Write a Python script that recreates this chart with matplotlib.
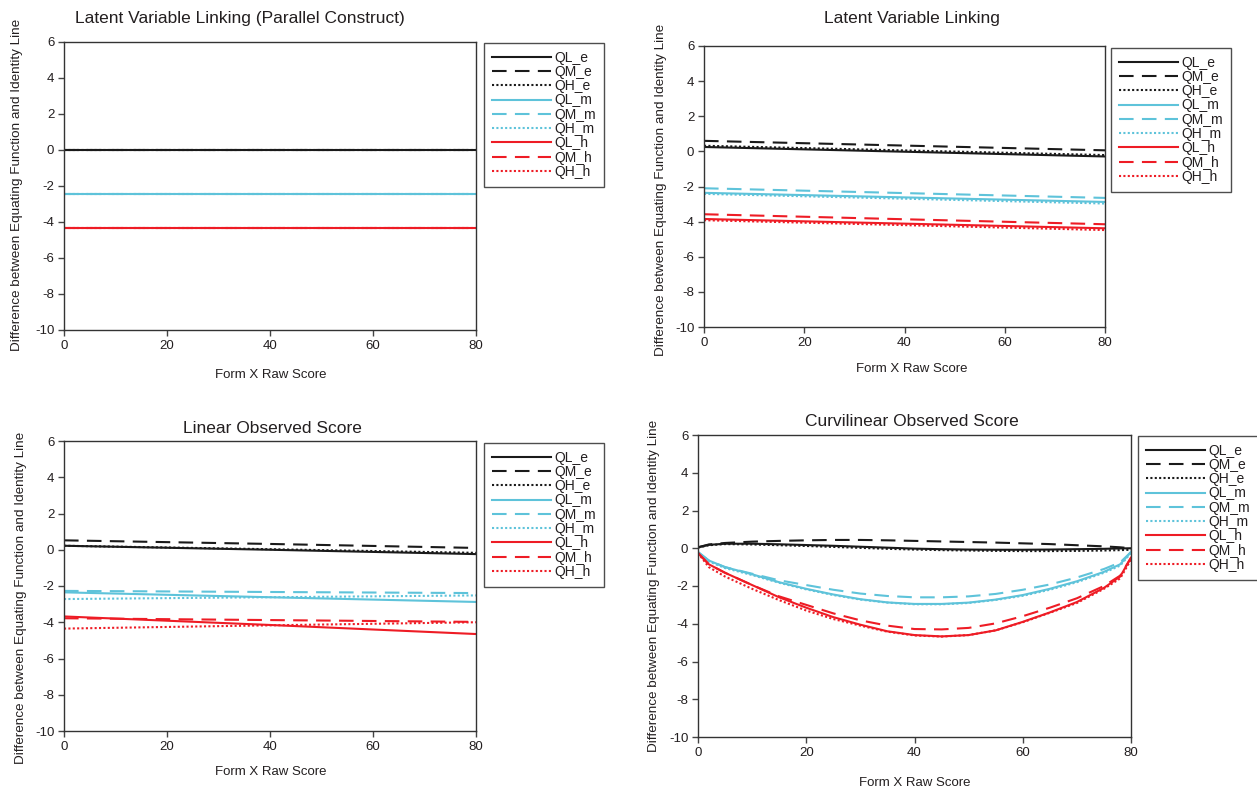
import matplotlib
matplotlib.use("Agg")
import matplotlib.pyplot as plt

plt.rcParams['font.family'] = ['Liberation Sans', 'DejaVu Sans']
plt.rcParams['axes.unicode_minus'] = False

W, H = 1257, 792

series_names = ["QL_e", "QM_e", "QH_e", "QL_m", "QM_m", "QH_m", "QL_h", "QM_h", "QH_h"]

# Panel 1: Latent Variable Linking (Parallel Construct)
p1_x = [0, 80]
p1_QL_e = [0.0, 0.0]
p1_QM_e = [0.0, 0.0]
p1_QH_e = [0.0, 0.0]
p1_QL_m = [-2.45, -2.45]
p1_QM_m = [-2.45, -2.45]
p1_QH_m = [-2.45, -2.45]
p1_QL_h = [-4.35, -4.35]
p1_QM_h = [-4.35, -4.35]
p1_QH_h = [-4.35, -4.35]

# Panel 2: Latent Variable Linking
p2_x = [0, 80]
p2_QL_e = [0.25, -0.29]
p2_QM_e = [0.60, 0.06]
p2_QH_e = [0.32, -0.21]
p2_QL_m = [-2.36, -2.88]
p2_QM_m = [-2.10, -2.65]
p2_QH_m = [-2.42, -2.97]
p2_QL_h = [-3.85, -4.38]
p2_QM_h = [-3.58, -4.15]
p2_QH_h = [-3.92, -4.48]

# Panel 3: Linear Observed Score
p3_x = [0, 40, 80]
p3_QL_e = [0.22, 0.00, -0.24]
p3_QM_e = [0.52, 0.32, 0.10]
p3_QH_e = [0.22, 0.03, -0.17]
p3_QL_m = [-2.35, -2.62, -2.88]
p3_QM_m = [-2.27, -2.33, -2.39]
p3_QH_m = [-2.72, -2.62, -2.52]
p3_QL_h = [-3.68, -4.15, -4.65]
p3_QM_h = [-3.78, -3.88, -3.98]
p3_QH_h = [-4.35, -4.17, -4.00]

# Panel 4: Curvilinear Observed Score
p4_x = [0, 2, 5, 10, 15, 20, 25, 30, 35, 40, 45, 50, 55, 60, 65, 70, 75, 78, 80]
p4_QL_e = [0.05, 0.18, 0.24, 0.24, 0.21, 0.17, 0.13, 0.08, 0.03, -0.02, -0.05, -0.07, -0.08, -0.08, -0.07, -0.05, -0.03, -0.01, 0.0]
p4_QM_e = [0.05, 0.20, 0.28, 0.35, 0.39, 0.42, 0.44, 0.44, 0.42, 0.39, 0.36, 0.33, 0.30, 0.26, 0.22, 0.16, 0.10, 0.05, 0.0]
p4_QH_e = [0.03, 0.16, 0.22, 0.20, 0.16, 0.12, 0.07, 0.02, -0.03, -0.07, -0.10, -0.12, -0.14, -0.15, -0.15, -0.14, -0.12, -0.10, -0.08]
p4_QL_m = [-0.20, -0.65, -1.00, -1.38, -1.80, -2.15, -2.45, -2.70, -2.87, -2.95, -2.95, -2.88, -2.72, -2.48, -2.15, -1.75, -1.25, -0.85, -0.20]
p4_QM_m = [-0.20, -0.65, -1.00, -1.35, -1.70, -1.95, -2.20, -2.40, -2.53, -2.60, -2.60, -2.55, -2.42, -2.20, -1.92, -1.55, -1.10, -0.75, -0.20]
p4_QH_m = [-0.22, -0.70, -1.05, -1.42, -1.83, -2.18, -2.48, -2.72, -2.88, -2.97, -2.97, -2.90, -2.74, -2.52, -2.20, -1.80, -1.30, -0.92, -0.25]
p4_QL_h = [-0.25, -0.85, -1.30, -1.95, -2.60, -3.15, -3.65, -4.05, -4.40, -4.60, -4.67, -4.60, -4.35, -3.90, -3.40, -2.85, -2.10, -1.50, -0.50]
p4_QM_h = [-0.25, -0.85, -1.30, -1.95, -2.55, -3.00, -3.45, -3.82, -4.10, -4.28, -4.30, -4.22, -3.98, -3.60, -3.15, -2.65, -2.00, -1.45, -0.50]
p4_QH_h = [-0.25, -1.00, -1.50, -2.15, -2.75, -3.30, -3.75, -4.10, -4.42, -4.62, -4.68, -4.60, -4.35, -3.92, -3.42, -2.90, -2.15, -1.60, -0.60]

titles = ["Latent Variable Linking (Parallel Construct)", "Latent Variable Linking",
          "Linear Observed Score", "Curvilinear Observed Score"]
xlabel = "Form X Raw Score"
ylabel = "Difference between Equating Function and Identity Line"
xticks = [0, 20, 40, 60, 80]
yticks = [6, 4, 2, 0, -2, -4, -6, -8, -10]

BLACK = "#1a1a1a"
CYAN = "#5ec3da"
RED = "#ee1c25"
TXT = "#231f20"
colors = [BLACK, BLACK, BLACK, CYAN, CYAN, CYAN, RED, RED, RED]
DASH = (0, (7, 4))
DOT = (0, (1, 1.1))
styles = ["-", DASH, DOT, "-", DASH, DOT, "-", DASH, DOT]

panels = [
    (p1_x, [p1_QL_e, p1_QM_e, p1_QH_e, p1_QL_m, p1_QM_m, p1_QH_m, p1_QL_h, p1_QM_h, p1_QH_h]),
    (p2_x, [p2_QL_e, p2_QM_e, p2_QH_e, p2_QL_m, p2_QM_m, p2_QH_m, p2_QL_h, p2_QM_h, p2_QH_h]),
    (p3_x, [p3_QL_e, p3_QM_e, p3_QH_e, p3_QL_m, p3_QM_m, p3_QH_m, p3_QL_h, p3_QM_h, p3_QH_h]),
    (p4_x, [p4_QL_e, p4_QM_e, p4_QH_e, p4_QL_m, p4_QM_m, p4_QH_m, p4_QL_h, p4_QM_h, p4_QH_h]),
]

# layout in pixels: (left, top, right, bottom) of axes
axes_px = [(64, 42, 476, 330), (704, 46, 1105, 327), (64, 441, 476, 731), (698, 435, 1131, 737)]
legend_px = [(484, 43), (1111, 48), (484, 443), (1138, 436)]
title_px = [(240, 19), (912, 18), (272, 428), (912, 421)]
xlabel_px = [(271, 375), (912, 369), (271, 772), (915, 783)]
ylabel_px = [(17, 185), (661, 190), (21, 598), (654, 586)]

fig = plt.figure(figsize=(W / 100, H / 100), dpi=100)

for i, (xs, ys_list) in enumerate(panels):
    l, t, r, b = axes_px[i]
    ax = fig.add_axes([l / W, 1 - b / H, (r - l) / W, (b - t) / H])
    for name, ys, c, ls in zip(series_names, ys_list, colors, styles):
        ax.plot(xs, ys, color=c, linestyle=ls, linewidth=1.5, label=name)
    ax.set_xlim(0, 80)
    ax.set_ylim(-10, 6)
    ax.set_xticks(xticks)
    ax.set_yticks(yticks)
    ax.tick_params(direction="out", length=4, width=1, colors="#444444",
                   labelcolor=TXT, labelsize=9.5, pad=3)
    for s in ax.spines.values():
        s.set_color("#333333")
        s.set_linewidth(1.0)
    fig.text(title_px[i][0] / W, 1 - title_px[i][1] / H, titles[i], ha="center", va="center",
             fontsize=12.5, color=TXT)
    fig.text(xlabel_px[i][0] / W, 1 - xlabel_px[i][1] / H, xlabel, ha="center", va="center",
             fontsize=9.5, color=TXT)
    fig.text(ylabel_px[i][0] / W, 1 - ylabel_px[i][1] / H, ylabel, ha="center", va="center",
             rotation=90, fontsize=9.7, color=TXT)
    lx, ly = legend_px[i]
    leg = ax.legend(loc="upper left", bbox_to_anchor=(lx / W, 1 - ly / H),
                    bbox_transform=fig.transFigure, fontsize=10, frameon=True,
                    fancybox=False, edgecolor="#222222", handlelength=4.3,
                    handletextpad=0.25, labelspacing=0.02, borderpad=0.55,
                    borderaxespad=0.0)
    leg.get_frame().set_linewidth(1.0)
    for txt in leg.get_texts():
        txt.set_color(TXT)

fig.savefig("out.png", dpi=100)
